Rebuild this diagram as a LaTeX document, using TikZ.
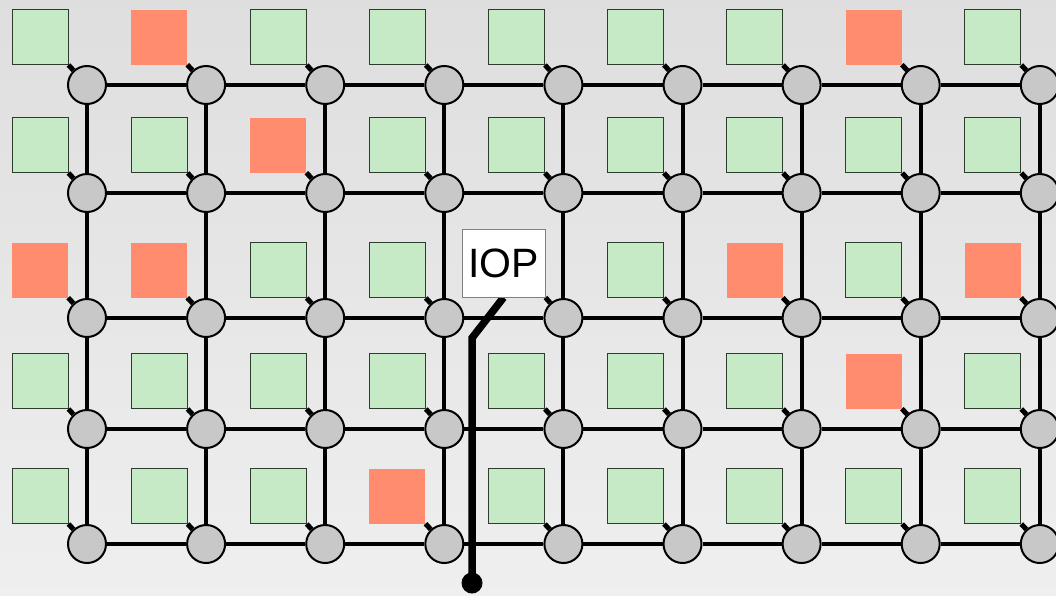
\documentclass[tikz,border=0pt]{standalone}
\usepackage{fontspec}
\setmainfont{Liberation Sans}
\definecolor{bgtop}{RGB}{214,214,214}
\definecolor{bgbot}{RGB}{247,247,247}
\definecolor{routergray}{RGB}{200,200,200}
\definecolor{tilegreen}{RGB}{197,234,197}
\definecolor{tilered}{RGB}{255,140,110}
\definecolor{tileedge}{RGB}{45,60,45}
\pgfdeclarelayer{bglayer}
\pgfdeclarelayer{links}
\pgfdeclarelayer{wirelayer}
\pgfsetlayers{bglayer,links,wirelayer,main}
\begin{document}
\begin{tikzpicture}[x=1pt,y=-1pt,
  router/.style={circle,draw=black,line width=2pt,fill=routergray,minimum size=38pt,inner sep=0pt},
  tile/.style={rectangle,minimum width=56pt,minimum height=55pt,inner sep=0pt},
  tile-g/.style={tile,fill=tilegreen,draw=tileedge,line width=1pt},
  tile-r/.style={tile,fill=tilered},
  link/.style={line width=4pt},
  stub/.style={line width=5pt},
  iopbox/.style={rectangle,draw=gray,line width=1pt,fill=white,minimum width=83pt,minimum height=68pt,inner sep=0pt,font=\fontsize{41}{41}\selectfont},
  wire/.style={line width=7.5pt},
  termdot/.style={circle,fill=black,minimum size=21pt,inner sep=0pt}]
\useasboundingbox (0,0) rectangle (1056,595);
\clip (0,0) rectangle (1056,595);
\begin{pgfonlayer}{bglayer}
\shade[top color=bgtop,bottom color=bgbot] (0,-297.5) rectangle (1056,892.5);
\end{pgfonlayer}
% routers and tiles
\foreach \r/\y/\types in {1/85/{g,r,g,g,g,g,g,r,g},2/193/{g,g,r,g,g,g,g,g,g},3/318/{r,r,g,g,n,g,r,g,r},4/429/{g,g,g,g,g,g,g,r,g},5/544/{g,g,g,r,g,g,g,g,g}}{
  \foreach \t [count=\c] in \types {
    \pgfmathsetmacro\x{87+119.1*(\c-1)}
    \node[router] (c-\r-\c) at (\x,\y) {};
    \if n\t\else
      \node[tile-\t] (s-\r-\c) at (\x-47,\y-48) {};
    \fi
  }
}
\node[iopbox] (s-3-5) at (503.5,263) {IOP};
\coordinate (bend) at (472,338);
\node[termdot] (term) at (472,583) {};
\begin{pgfonlayer}{links}
\foreach \r in {1,...,5}{
  \foreach \c [evaluate=\c as \n using int(\c+1)] in {1,...,8}{
    \draw[link] (c-\r-\c) -- (c-\r-\n);
  }
  \foreach \c in {1,...,9}{
    \draw[stub] (s-\r-\c.south east) -- (c-\r-\c);
  }
}
\foreach \r [evaluate=\r as \n using int(\r+1)] in {1,...,4}{
  \foreach \c in {1,...,9}{
    \draw[link] (c-\r-\c) -- (c-\n-\c);
  }
}
\end{pgfonlayer}
\begin{pgfonlayer}{wirelayer}
\draw[wire] (s-3-5.south) -- (bend) -- (term.center);
\end{pgfonlayer}
\end{tikzpicture}
\end{document}
